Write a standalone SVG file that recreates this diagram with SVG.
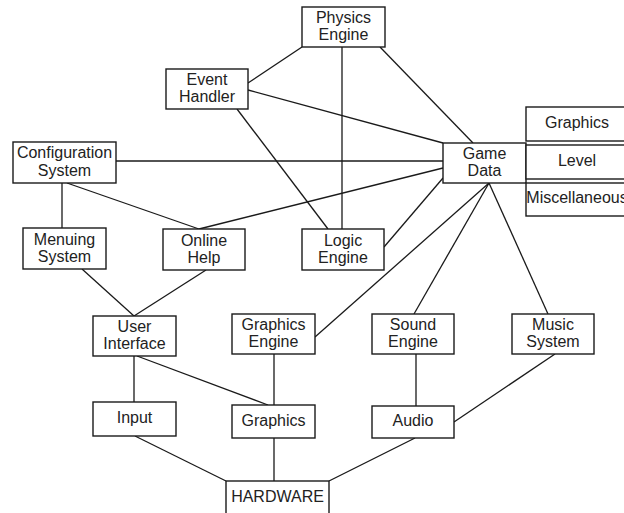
<svg xmlns="http://www.w3.org/2000/svg" width="624" height="513" viewBox="0 0 624 513">
<style>
rect{fill:#fff;stroke:#1a1a1a;stroke-width:1.4}
text{font-family:"Liberation Sans",Arial,sans-serif;font-size:16px;fill:#222;text-anchor:middle}
#connectors line{stroke:#1a1a1a;stroke-width:1.3}
</style>
<rect x="0" y="0" width="624" height="513" style="fill:#fff;stroke:none"/>
<g id="connectors">
<line x1="302" y1="47" x2="248" y2="83"/>
<line x1="342" y1="47" x2="342" y2="229"/>
<line x1="380" y1="47" x2="473" y2="143"/>
<line x1="248" y1="90" x2="443" y2="143"/>
<line x1="237" y1="109" x2="328" y2="229"/>
<line x1="116" y1="161" x2="443" y2="161"/>
<line x1="62" y1="183" x2="62" y2="228"/>
<line x1="67" y1="183" x2="199" y2="229"/>
<line x1="199" y1="229" x2="443" y2="168"/>
<line x1="384" y1="247" x2="443" y2="178"/>
<line x1="489" y1="183" x2="315" y2="337"/>
<line x1="489" y1="183" x2="414" y2="314"/>
<line x1="489" y1="183" x2="548" y2="314"/>
<line x1="82" y1="269" x2="134" y2="316"/>
<line x1="206" y1="270" x2="134" y2="316"/>
<line x1="134" y1="356" x2="134" y2="402"/>
<line x1="137" y1="356" x2="268" y2="405"/>
<line x1="274" y1="354" x2="274" y2="405"/>
<line x1="416" y1="354" x2="416" y2="406"/>
<line x1="555" y1="354" x2="454" y2="422"/>
<line x1="135" y1="436" x2="226" y2="481"/>
<line x1="274" y1="438" x2="274" y2="481"/>
<line x1="415" y1="438" x2="329" y2="481"/>
</g>
<g id="physics"><rect x="302" y="7" width="83" height="40"/><text x="343.5" y="23">Physics</text><text x="343.5" y="40">Engine</text></g>
<g id="event"><rect x="166" y="69" width="82" height="40"/><text x="207" y="85">Event</text><text x="207" y="102">Handler</text></g>
<g id="config"><rect x="13" y="142" width="103" height="41"/><text x="64.5" y="158">Configuration</text><text x="64.5" y="175.5">System</text></g>
<g id="gamedata"><rect x="443" y="143" width="83" height="40"/><text x="484.5" y="159">Game</text><text x="484.5" y="176">Data</text></g>
<g id="data-graphics"><rect x="526" y="107" width="102" height="34"/><text x="577" y="128">Graphics</text></g>
<g id="data-level"><rect x="526" y="145" width="102" height="34"/><text x="577" y="165.5">Level</text></g>
<g id="data-misc"><rect x="526" y="183" width="102" height="33"/><text x="577" y="203">Miscellaneous</text></g>
<g id="menuing"><rect x="23" y="228" width="83" height="41"/><text x="64.5" y="244.5">Menuing</text><text x="64.5" y="262">System</text></g>
<g id="online"><rect x="163" y="229" width="82" height="41"/><text x="204" y="245.5">Online</text><text x="204" y="263">Help</text></g>
<g id="logic"><rect x="302" y="229" width="82" height="41"/><text x="343" y="245.5">Logic</text><text x="343" y="263">Engine</text></g>
<g id="ui"><rect x="93" y="316" width="83" height="40"/><text x="134.5" y="331.5">User</text><text x="134.5" y="349">Interface</text></g>
<g id="gengine"><rect x="232" y="314" width="83" height="40"/><text x="273.5" y="329.5">Graphics</text><text x="273.5" y="347">Engine</text></g>
<g id="sengine"><rect x="372" y="314" width="82" height="40"/><text x="413" y="329.5">Sound</text><text x="413" y="347">Engine</text></g>
<g id="music"><rect x="512" y="314" width="82" height="40"/><text x="553" y="329.5">Music</text><text x="553" y="347">System</text></g>
<g id="input"><rect x="93" y="402" width="83" height="34"/><text x="134.5" y="423">Input</text></g>
<g id="graphics"><rect x="232" y="405" width="83" height="33"/><text x="273.5" y="425.5">Graphics</text></g>
<g id="audio"><rect x="372" y="406" width="82" height="32"/><text x="413" y="425.5">Audio</text></g>
<g id="hardware"><rect x="226" y="481" width="103" height="40"/><text x="277.5" y="502">HARDWARE</text></g>
</svg>
